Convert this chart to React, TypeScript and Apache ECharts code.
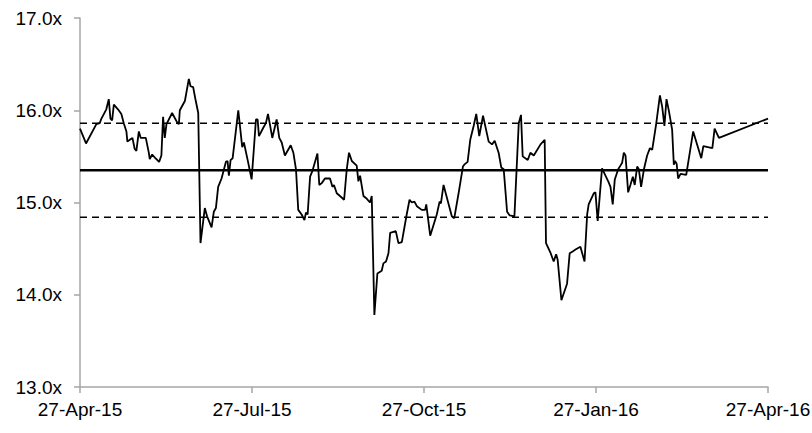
import React, { useEffect, useRef } from "react";
import * as echarts from "echarts";

// Start date of the x axis; day offsets are counted from it
const START_DATE = "27-Apr-15";
const xTickLabels = ["27-Apr-15", "27-Jul-15", "27-Oct-15", "27-Jan-16", "27-Apr-16"];
const yTickValues = [13, 14, 15, 16, 17];

// Days since 27-Apr-15
const dayOffsets = [
  0, 3.2, 8.7, 10.5, 11.4, 14, 15.3, 16.2, 17.1, 18, 20.2, 22, 23.4, 24.7, 25.2, 26.5, 27.9, 29.1, 30,
  31.3, 32.3, 35, 36.6, 37.1, 38.4, 40.1, 42.1, 43.3, 44.2, 45.1, 46, 49, 51.9, 52.6, 53.1, 55.8, 57.9,
  58.8, 60.2, 61.3, 62.9, 64.1, 66.4, 67.6, 70, 71.2, 72.3, 73.5, 75.3, 77.6, 78.5, 79.2, 80.1, 81.2,
  83, 84.2, 86.3, 87.2, 89.2, 91.3, 92.7, 93.6, 94.5, 95.2, 97.5, 98.9, 100, 101, 102.3, 104.6, 106,
  107.3, 109, 112.1, 113.5, 114.9, 116.1, 117.9, 119.4, 120.2, 121.1, 122.4, 123.6, 126.3, 127.3,
  128.6, 130.3, 133, 134.3, 135.1, 136.6, 138.3, 140.5, 141.9, 143.1, 144.6, 147.2, 148.1, 149, 150.8,
  152.6, 154.3, 155.2, 156.6, 158.2, 160.5, 161.4, 162.8, 164.1, 165, 168, 169.4, 171.2, 173.8, 175.3,
  176.5, 177.9, 179.2, 181.8, 183.6, 184.2, 186.3, 189.8, 191.3, 192, 193.4, 196.1, 197.8, 199.1,
  201.4, 203.7, 204.4, 206.2, 207.6, 209.4, 210.8, 212.4, 214.4, 217.4, 219.2, 220.6, 222.7, 224.1,
  225.4, 227.2, 228.6, 231.1, 233.4, 234.6, 235.5, 238.2, 239.6, 241.4, 245, 247.2, 247.9, 250.2, 252,
  253.3, 254.1, 256.1, 259.1, 260.5, 262.1, 263.6, 266.2, 268.4, 269.8, 270.6, 273.3, 274.2, 275.4,
  276.5, 277.7, 281, 282.2, 283.4, 284.5, 286.3, 287.5, 288.4, 289.3, 290.2, 291.6, 292.8, 294.1,
  295.1, 296.4, 297.3, 298.5, 300, 301.7, 303.2, 304.4, 306.5, 308.5, 309.7, 310.9, 312, 313.3, 315,
  315.9, 316.5, 317.4, 318.2, 319.5, 322.5, 326.2, 328.4, 330.5, 331.6, 336.4, 337.6, 339.9, 366,
];

// P/E multiple (x)
const peValues = [
  15.8, 15.64, 15.85, 15.86, 15.91, 16.01, 16.12, 15.91, 15.89, 16.06, 16.01, 15.96, 15.85, 15.77, 15.66,
  15.68, 15.7, 15.58, 15.56, 15.77, 15.7, 15.7, 15.54, 15.47, 15.52, 15.48, 15.44, 15.51, 15.93, 15.7,
  15.85, 15.97, 15.86, 15.85, 16.0, 16.1, 16.34, 16.26, 16.25, 16.13, 15.97, 14.56, 14.94, 14.85, 14.73,
  14.9, 14.94, 15.17, 15.26, 15.44, 15.45, 15.29, 15.46, 15.48, 15.79, 16.0, 15.6, 15.65, 15.46, 15.25,
  15.64, 15.9, 15.9, 15.72, 15.81, 15.86, 15.96, 15.85, 15.7, 15.9, 15.7, 15.65, 15.51, 15.62, 15.54,
  15.36, 14.92, 14.87, 14.81, 14.89, 14.87, 15.28, 15.34, 15.53, 15.19, 15.21, 15.26, 15.26, 15.17,
  15.19, 15.1, 15.07, 15.03, 15.36, 15.54, 15.45, 15.4, 15.23, 15.29, 15.07, 15.04, 15.0, 15.07, 13.78,
  14.23, 14.26, 14.34, 14.36, 14.45, 14.67, 14.69, 14.56, 14.57, 14.87, 15.03, 15.0, 15.01, 14.96,
  14.92, 14.92, 14.98, 14.64, 14.87, 15.01, 14.99, 15.19, 14.98, 14.85, 14.83, 15.1, 15.39, 15.41,
  15.44, 15.68, 15.83, 15.96, 15.72, 15.94, 15.66, 15.63, 15.67, 15.54, 15.38, 15.36, 14.9, 14.86,
  14.85, 15.86, 15.95, 15.5, 15.46, 15.54, 15.51, 15.63, 15.68, 14.56, 14.46, 14.36, 14.44, 14.38,
  13.94, 14.12, 14.45, 14.47, 14.49, 14.52, 14.36, 14.87, 14.98, 15.1, 15.11, 14.8, 15.07, 15.37,
  15.23, 15.17, 14.98, 15.25, 15.36, 15.4, 15.43, 15.54, 15.51, 15.11, 15.19, 15.28, 15.19, 15.39,
  15.36, 15.17, 15.36, 15.51, 15.59, 15.57, 15.85, 16.16, 16.04, 15.83, 16.12, 15.99, 15.79, 15.41,
  15.45, 15.42, 15.26, 15.31, 15.3, 15.77, 15.62, 15.48, 15.61, 15.59, 15.8, 15.7, 15.91,
];

const meanValue = 15.35;
const upperBand = 15.86;
const lowerBand = 14.84;
const totalDays = 366;

export default function App() {
  const ref = useRef<HTMLDivElement>(null);

  useEffect(() => {
    if (!ref.current) return;
    const chart = echarts.init(ref.current, undefined, { renderer: "svg" });
    const tickStep = totalDays / (xTickLabels.length - 1);
    const lineData = dayOffsets.map((d, i) => [d, peValues[i]]);
    const flat = (v: number) => [
      [0, v],
      [totalDays, v],
    ];
    const font = "'Liberation Sans', Arial, sans-serif";

    chart.setOption({
      animation: false,
      backgroundColor: "#ffffff",
      grid: {
        left: 80,
        right: 44,
        top: 18,
        bottom: 46,
        containLabel: false,
        outerBoundsMode: "none",
      },
      xAxis: {
        type: "value",
        min: 0,
        max: totalDays,
        interval: tickStep,
        splitLine: { show: false },
        axisLine: { lineStyle: { color: "#a6a6a6", width: 1.5 } },
        axisTick: { show: true, length: 6, lineStyle: { color: "#a6a6a6", width: 1.5 } },
        axisLabel: {
          color: "#000",
          fontSize: 19,
          fontFamily: font,
          margin: 13,
          showMaxLabel: true,
          showMinLabel: true,
          hideOverlap: false,
          formatter: (v: number) => xTickLabels[Math.round(v / tickStep)] ?? "",
        },
      },
      yAxis: {
        type: "value",
        min: yTickValues[0],
        max: yTickValues[yTickValues.length - 1],
        interval: 1,
        splitLine: { show: false },
        axisLine: { show: true, lineStyle: { color: "#a6a6a6", width: 1.5 } },
        axisTick: { show: true, length: 6, lineStyle: { color: "#a6a6a6", width: 1.5 } },
        axisLabel: {
          color: "#000",
          fontSize: 19,
          fontFamily: font,
          margin: 18,
          formatter: (v: number) => v.toFixed(1) + "x",
        },
      },
      series: [
        {
          type: "line",
          data: flat(upperBand),
          symbol: "none",
          silent: true,
          lineStyle: { color: "#000", width: 1.5, type: [7, 5] },
        },
        {
          type: "line",
          data: flat(lowerBand),
          symbol: "none",
          silent: true,
          lineStyle: { color: "#000", width: 1.5, type: [7, 5] },
        },
        {
          type: "line",
          data: flat(meanValue),
          symbol: "none",
          silent: true,
          lineStyle: { color: "#000", width: 2.5 },
        },
        {
          type: "line",
          name: START_DATE,
          data: lineData,
          symbol: "none",
          lineStyle: { color: "#000", width: 1.8 },
        },
      ],
    });
    return () => chart.dispose();
  }, []);

  return <div ref={ref} style={{ width: 812, height: 433, position: "absolute", left: 0, top: 0 }} />;
}
